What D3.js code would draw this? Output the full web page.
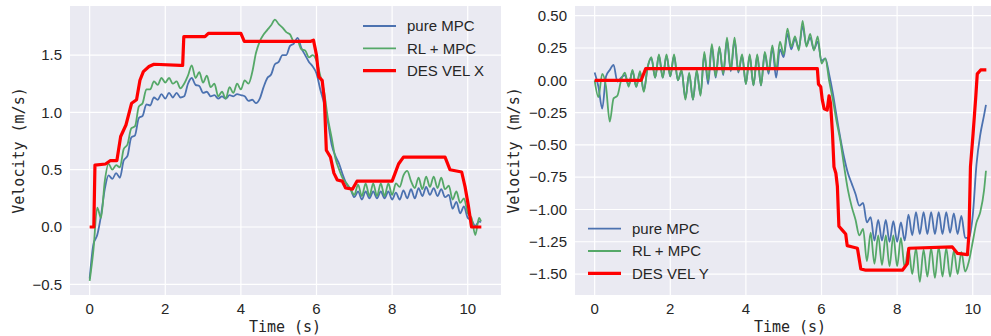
<!DOCTYPE html>
<html>
<head>
<meta charset="utf-8">
<script src="https://cdn.jsdelivr.net/npm/d3@7"></script>
<style>
  body { margin: 0; background: #fff; }
  svg { display: block; }
</style>
</head>
<body>
<svg id="chart" width="991" height="336"></svg>
<script>
// sample times (s) shared by the measured series
const time = [0,0.1,0.2,0.3,0.4,0.5,0.6,0.7,0.8,0.9,1.0,1.1,1.2,1.3,1.4,1.5,1.6,1.7,1.8,1.9,
  2.0,2.1,2.2,2.3,2.4,2.5,2.6,2.7,2.8,2.9,3.0,3.1,3.2,3.3,3.4,3.5,3.6,3.7,3.8,3.9,
  4.0,4.1,4.2,4.3,4.4,4.5,4.6,4.7,4.8,4.9,5.0,5.1,5.2,5.3,5.4,5.5,5.6,5.7,5.8,5.9,
  6.0,6.1,6.2,6.3,6.4,6.5,6.6,6.7,6.8,6.9,7.0,7.1,7.2,7.3,7.4,7.5,7.6,7.7,7.8,7.9,
  8.0,8.1,8.2,8.3,8.4,8.5,8.6,8.7,8.8,8.9,9.0,9.1,9.2,9.3,9.4,9.5,9.6,9.7,9.8,9.9,
  10.0,10.1,10.2,10.3,10.35];

// X velocity
const pureMpcX = [-0.45,-0.15,-0.07,0.10,0.33,0.45,0.42,0.47,0.43,0.58,0.62,0.78,0.80,0.95,0.97,1.07,1.06,1.13,1.11,1.16,
  1.12,1.17,1.13,1.17,1.13,1.14,1.25,1.30,1.24,1.23,1.17,1.18,1.14,1.15,1.12,1.14,1.12,1.15,1.14,1.16,
  1.15,1.14,1.10,1.11,1.08,1.12,1.22,1.30,1.33,1.42,1.44,1.50,1.50,1.58,1.60,1.65,1.56,1.50,1.44,1.40,
  1.34,1.20,1.08,0.92,0.72,0.62,0.55,0.45,0.37,0.33,0.26,0.31,0.24,0.31,0.25,0.31,0.25,0.31,0.25,0.31,
  0.24,0.30,0.24,0.32,0.25,0.33,0.25,0.34,0.27,0.35,0.28,0.34,0.27,0.33,0.26,0.28,0.16,0.22,0.12,0.18,
  0.08,0.06,0.01,0.05,0.04];
const rlMpcX = [-0.47,-0.20,0.17,0.08,0.40,0.55,0.50,0.54,0.52,0.68,0.72,0.86,0.88,1.05,1.08,1.20,1.20,1.27,1.24,1.30,
  1.26,1.30,1.25,1.27,1.21,1.25,1.32,1.41,1.30,1.35,1.26,1.32,1.22,1.25,1.14,1.18,1.12,1.22,1.17,1.25,
  1.20,1.28,1.25,1.35,1.52,1.62,1.68,1.72,1.76,1.81,1.77,1.74,1.70,1.68,1.62,1.62,1.55,1.54,1.48,1.50,
  1.45,1.32,1.18,0.95,0.78,0.60,0.50,0.42,0.38,0.33,0.28,0.37,0.27,0.38,0.27,0.38,0.27,0.38,0.27,0.38,
  0.28,0.38,0.35,0.45,0.49,0.40,0.34,0.43,0.33,0.44,0.35,0.44,0.34,0.43,0.33,0.36,0.24,0.31,0.21,0.25,
  0.12,0.08,-0.07,0.08,0.05];
const desVelX = [[0,0],[0.11,0],[0.14,0.54],[0.42,0.55],[0.55,0.58],[0.72,0.58],[0.82,0.79],[0.96,0.89],
  [1.11,1.08],[1.24,1.11],[1.33,1.28],[1.42,1.355],[1.57,1.40],[1.70,1.42],[2.40,1.41],[2.46,1.41],[2.49,1.66],
  [3.05,1.66],[3.14,1.69],[4.0,1.69],[4.09,1.62],[5.85,1.62],[5.92,1.63],[6.0,1.50],[6.06,1.31],[6.15,1.28],
  [6.21,1.10],[6.26,0.67],[6.37,0.61],[6.46,0.47],[6.55,0.41],[6.68,0.40],[6.77,0.34],[6.95,0.33],[7.07,0.40],
  [8.0,0.40],[8.08,0.47],[8.17,0.55],[8.3,0.61],[9.4,0.61],[9.53,0.50],[9.84,0.48],[9.93,0.35],[10.02,0.18],
  [10.1,0],[10.36,0]];

// Y velocity
const pureMpcY = [0.06,-0.05,-0.22,0.03,0.08,0.12,-0.01,0.02,0.04,-0.04,0.07,-0.05,0.06,-0.08,0.10,0.17,0.02,0.19,0.02,0.19,
  0.03,0.19,0.00,0.07,-0.14,0.05,-0.15,0.07,-0.11,0.20,-0.03,0.26,0.02,0.25,0.04,0.31,0.07,0.31,0.06,0.19,
  -0.03,0.19,-0.04,0.19,-0.04,0.21,0.05,0.25,0.02,0.24,0.18,0.36,0.24,0.32,0.25,0.42,0.27,0.33,0.24,0.30,
  0.15,0.17,0.05,-0.10,-0.28,-0.45,-0.60,-0.72,-0.80,-0.88,-0.97,-0.95,-1.10,-1.06,-1.24,-1.08,-1.24,-1.08,-1.25,-1.09,
  -1.25,-1.10,-1.24,-1.04,-1.20,-1.02,-1.19,-1.02,-1.19,-1.02,-1.19,-1.02,-1.19,-1.02,-1.18,-1.03,-1.19,-1.05,-1.22,-1.22,
  -1.05,-0.65,-0.42,-0.27,-0.19];
const rlMpcY = [0.00,-0.13,0.05,-0.05,-0.32,-0.14,-0.12,0.00,0.06,-0.05,0.08,-0.05,0.07,-0.09,0.10,0.18,0.02,0.20,0.02,0.20,
  0.03,0.20,0.00,0.08,-0.15,0.06,-0.15,0.08,-0.12,0.22,0.00,0.28,0.03,0.26,0.05,0.33,0.08,0.33,0.07,0.20,
  -0.03,0.20,-0.04,0.20,-0.04,0.22,0.07,0.27,0.08,0.30,0.20,0.40,0.26,0.34,0.23,0.46,0.26,0.36,0.23,0.34,
  0.13,0.17,0.00,-0.15,-0.32,-0.47,-0.67,-0.85,-0.98,-1.08,-1.20,-1.15,-1.40,-1.18,-1.42,-1.20,-1.43,-1.20,-1.44,-1.20,
  -1.44,-1.22,-1.45,-1.30,-1.50,-1.30,-1.56,-1.31,-1.52,-1.30,-1.53,-1.29,-1.52,-1.30,-1.52,-1.32,-1.50,-1.33,-1.48,-1.40,
  -1.25,-1.10,-1.02,-0.85,-0.70];
const desVelY = [[0,0],[1.23,0],[1.35,0.09],[5.89,0.09],[5.92,-0.03],[5.98,-0.05],[6.02,-0.15],[6.07,-0.22],
  [6.15,-0.23],[6.2,-0.12],[6.24,-0.18],[6.29,-0.41],[6.33,-0.67],[6.38,-0.72],[6.42,-0.82],[6.46,-1.13],
  [6.55,-1.16],[6.64,-1.19],[6.68,-1.28],[6.82,-1.29],[6.95,-1.30],[7.04,-1.46],[7.17,-1.47],[8.14,-1.47],
  [8.27,-1.42],[8.31,-1.30],[9.46,-1.29],[9.6,-1.34],[9.86,-1.35],[9.9,-1.19],[9.94,-0.67],[10.01,-0.41],
  [10.08,-0.13],[10.12,0.05],[10.21,0.08],[10.36,0.08]];

const xTicks = [0, 2, 4, 6, 8, 10];
const yTicksX = [-0.5, 0.0, 0.5, 1.0, 1.5];
const yTicksY = [-1.5, -1.25, -1.0, -0.75, -0.5, -0.25, 0.0, 0.25, 0.5];

const BLUE = "#4c72b0", GREEN = "#55a868", RED = "#ff0000";
const TEXT = "#262626";
const svg = d3.select("#chart");

function drawPanel(opt) {
  const x = d3.scaleLinear().domain([-0.52, 10.88]).range([opt.left, opt.left + 431]);
  const y = d3.scaleLinear().domain(opt.yDomain).range([295, 6]);
  const g = svg.append("g");

  g.append("rect")
    .attr("x", opt.left).attr("y", 6)
    .attr("width", 431).attr("height", 289)
    .attr("fill", "#eaeaf2");

  // grid
  g.selectAll(".gx").data(xTicks).join("line")
    .attr("x1", d => x(d)).attr("x2", d => x(d))
    .attr("y1", 6).attr("y2", 295)
    .attr("stroke", "#fff").attr("stroke-width", 1.2);
  g.selectAll(".gy").data(opt.yTicks).join("line")
    .attr("x1", opt.left).attr("x2", opt.left + 431)
    .attr("y1", d => y(d)).attr("y2", d => y(d))
    .attr("stroke", "#fff").attr("stroke-width", 1.2);

  // tick labels
  g.selectAll(".tx").data(xTicks).join("text")
    .attr("x", d => x(d)).attr("y", 314)
    .attr("text-anchor", "middle")
    .attr("font-family", "Liberation Sans, Arial, sans-serif")
    .attr("font-size", 15).attr("fill", TEXT)
    .text(d => d);
  g.selectAll(".ty").data(opt.yTicks).join("text")
    .attr("x", opt.left - 8).attr("y", d => y(d))
    .attr("dy", "0.35em")
    .attr("text-anchor", "end")
    .attr("font-family", "Liberation Sans, Arial, sans-serif")
    .attr("font-size", 15).attr("fill", TEXT)
    .text(d => d3.format(opt.fmt)(d));

  // axis labels
  g.append("text")
    .attr("x", opt.left + 215).attr("y", 332)
    .attr("text-anchor", "middle")
    .attr("font-family", "DejaVu Sans Mono, monospace")
    .attr("font-size", 15).attr("fill", TEXT)
    .text("Time (s)");
  g.append("text")
    .attr("transform", `translate(${opt.yLabelX},150.5) rotate(-90)`)
    .attr("text-anchor", "middle")
    .attr("dy", "0.35em")
    .attr("font-family", "DejaVu Sans Mono, monospace")
    .attr("font-size", 15).attr("fill", TEXT)
    .text("Velocity (m/s)");

  // lines: measured curves smoothed a bit, desired velocity straight segments
  const smooth = d3.line().x(d => x(d[0])).y(d => y(d[1])).curve(d3.curveMonotoneX);
  const straight = d3.line().x(d => x(d[0])).y(d => y(d[1]));
  const series = [
    { name: "pure MPC", data: time.map((t, i) => [t, opt.pure[i]]), color: BLUE, w: 1.8, gen: smooth },
    { name: "RL + MPC", data: time.map((t, i) => [t, opt.rl[i]]), color: GREEN, w: 1.8, gen: smooth },
    { name: opt.desName, data: opt.des, color: RED, w: 3.2, gen: straight }
  ];
  series.forEach(s => {
    g.append("path")
      .attr("d", s.gen(s.data))
      .attr("fill", "none")
      .attr("stroke", s.color)
      .attr("stroke-width", s.w)
      .attr("stroke-linejoin", "round");
  });

  // legend
  series.forEach((s, i) => {
    const ly = opt.legendY + i * 22.3;
    g.append("line")
      .attr("x1", opt.legendX).attr("x2", opt.legendX + 33)
      .attr("y1", ly).attr("y2", ly)
      .attr("stroke", s.color).attr("stroke-width", s.w);
    g.append("text")
      .attr("x", opt.legendX + 44).attr("y", ly)
      .attr("dy", "0.35em")
      .attr("font-family", "Liberation Sans, Arial, sans-serif")
      .attr("font-size", 15).attr("fill", TEXT)
      .text(s.name);
  });
}

drawPanel({
  left: 70, yDomain: [-0.593, 1.928], yTicks: yTicksX, fmt: ".1f",
  pure: pureMpcX, rl: rlMpcX, des: desVelX, desName: "DES VEL X",
  yLabelX: 19, legendX: 363, legendY: 26
});
drawPanel({
  left: 575, yDomain: [-1.662, 0.575], yTicks: yTicksY, fmt: ".2f",
  pure: pureMpcY, rl: rlMpcY, des: desVelY, desName: "DES VEL Y",
  yLabelX: 514, legendX: 588, legendY: 228.7
});
</script>
</body>
</html>
